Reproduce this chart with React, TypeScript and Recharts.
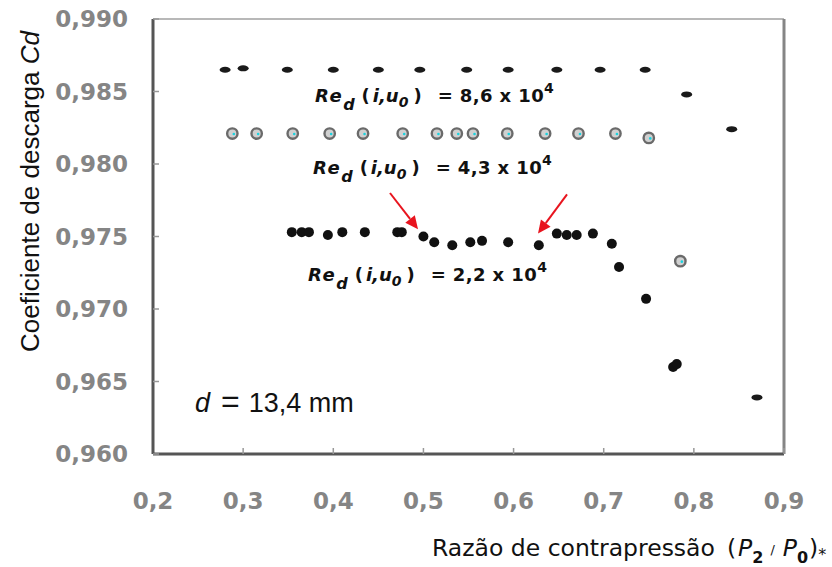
import { ScatterChart, Scatter, XAxis, YAxis, ReferenceLine, ReferenceDot } from "recharts";

const X_TICKS = [0.2, 0.3, 0.4, 0.5, 0.6, 0.7, 0.8, 0.9];
const Y_TICKS = [0.96, 0.965, 0.97, 0.975, 0.98, 0.985, 0.99];

// Re_d = 8,6 x 10^4
const RE86_X = [0.28, 0.3, 0.349, 0.4, 0.45, 0.496, 0.548, 0.594, 0.648, 0.696, 0.746, 0.792, 0.842, 0.87];
const RE86_Y = [0.9865, 0.9866, 0.9865, 0.9865, 0.9865, 0.9865, 0.9865, 0.9865, 0.9865, 0.9865, 0.9865, 0.9848, 0.9824, 0.9639];

// Re_d = 4,3 x 10^4
const RE43_X = [0.288, 0.315, 0.355, 0.396, 0.433, 0.477, 0.515, 0.537, 0.555, 0.593, 0.635, 0.672, 0.713, 0.75, 0.785];
const RE43_Y = [0.9821, 0.9821, 0.9821, 0.9821, 0.9821, 0.9821, 0.9821, 0.9821, 0.9821, 0.9821, 0.9821, 0.9821, 0.9821, 0.9818, 0.9733];

// Re_d = 2,2 x 10^4
const RE22_X = [0.354, 0.365, 0.373, 0.394, 0.41, 0.435, 0.471, 0.476, 0.5, 0.512, 0.532, 0.552, 0.565, 0.594, 0.628, 0.648, 0.659, 0.67, 0.688, 0.709, 0.717, 0.747, 0.777, 0.781];
const RE22_Y = [0.9753, 0.9753, 0.9753, 0.9751, 0.9753, 0.9753, 0.9753, 0.9753, 0.975, 0.9746, 0.9744, 0.9746, 0.9747, 0.9746, 0.9744, 0.9752, 0.9751, 0.9751, 0.9752, 0.9745, 0.9729, 0.9707, 0.966, 0.9662];

const NOTE_VALUES = ["8,6", "4,3", "2,2"];
const NOTE_X = [0.3797, 0.3775, 0.372];
const NOTE_Y = [0.9843, 0.9793, 0.9719];

// red arrows: [start, tip]
const ARROWS = [
  [{ x: 0.4629, y: 0.978 }, { x: 0.494, y: 0.9755 }],
  [{ x: 0.6593, y: 0.9779 }, { x: 0.6271, y: 0.9752 }],
];

const toPoints = (xs: number[], ys: number[]) => xs.map((x, i) => ({ x, y: ys[i] }));

const fmtX = (v: number) => v.toFixed(1).replace(".", ",");
const fmtY = (v: number) => v.toFixed(3).replace(".", ",");

const tickStyle = { fontFamily: "DejaVu Sans", fontWeight: "bold", fontSize: 23, fill: "#858585" };

const DashDot = (p: any) => <ellipse cx={p.cx} cy={p.cy} rx={5.5} ry={3} fill="#1a1a1a" />;

const RingDot = (p: any) => (
  <g>
    <circle cx={p.cx} cy={p.cy} r={5.2} fill="#d0d0d0" stroke="#6a6a6a" strokeWidth={2.4} />
    <circle cx={p.cx + 1.5} cy={p.cy + 0.5} r={1.3} fill="#19d3e0" />
  </g>
);

const BlackDot = (p: any) => <circle cx={p.cx} cy={p.cy} r={5} fill="#111" />;

const ReNote = ({ cx, cy, value }: any) => (
  <text x={cx} y={cy} fontFamily="DejaVu Sans" fontWeight="bold" fontSize={18} fill="#111">
    <tspan fontStyle="italic" letterSpacing={1.5}>Re</tspan>
    <tspan fontStyle="italic" fontSize={16} dy={8}>d</tspan>
    <tspan dy={-8} dx={7}>(</tspan>
    <tspan fontStyle="italic" dx={3}>i,u</tspan>
    <tspan fontStyle="italic" fontSize={14} dy={5}>0</tspan>
    <tspan dy={-5} dx={5}>)</tspan>
    <tspan dx={16} letterSpacing={0.4}>{`= ${value} x 10`}</tspan>
    <tspan fontSize={14} dy={-9}>4</tspan>
  </text>
);

const DNote = ({ cx, cy }: any) => (
  <text x={cx} y={cy} fontFamily="Liberation Sans" fontSize={27} fill="#111">
    <tspan fontStyle="italic">d</tspan>
    <tspan dx={11} fontSize={32}>=</tspan>
    <tspan dx={9}>13,4 mm</tspan>
  </text>
);

const Arrow = ({ x1, y1, x2, y2 }: any) => {
  const a = Math.atan2(y2 - y1, x2 - x1);
  const len = 13;
  const w = 6;
  const bx = x2 - len * Math.cos(a);
  const by = y2 - len * Math.sin(a);
  const px = -Math.sin(a) * w;
  const py = Math.cos(a) * w;
  return (
    <g>
      <line x1={x1} y1={y1} x2={bx} y2={by} stroke="#e8141e" strokeWidth={2} />
      <polygon points={`${x2},${y2} ${bx + px},${by + py} ${bx - px},${by - py}`} fill="#e8141e" />
    </g>
  );
};

const YTitle = (props: any) => {
  const vb = props.viewBox;
  return (
    <text
      transform={`translate(${vb.x + 39}, ${vb.y + vb.height / 2 - 45}) rotate(-90)`}
      textAnchor="middle"
      fontFamily="Liberation Sans"
      fontSize={26}
      fill="#111"
    >
      Coeficiente de descarga{"  "}
      <tspan fontStyle="italic">Cd</tspan>
    </text>
  );
};

const XTitle = (props: any) => {
  const vb = props.viewBox;
  return (
    <text x={vb.x + 279} y={vb.y + 102} fontFamily="DejaVu Sans" fontSize={23.5} fill="#111">
      Razão de contrapressão
      <tspan dx={12}>(</tspan>
      <tspan fontStyle="italic" dx={2}>P</tspan>
      <tspan fontSize={16} fontWeight="bold" dy={7}>2</tspan>
      <tspan dy={-9} fontSize={13} dx={7}>/</tspan>
      <tspan fontStyle="italic" dy={2} dx={8}>P</tspan>
      <tspan fontSize={16} fontWeight="bold" dy={7}>0</tspan>
      <tspan dy={-7} dx={1}>)</tspan>
      <tspan fontSize={16} dy={4}>*</tspan>
    </text>
  );
};

export default function App() {
  return (
    <div style={{ position: "absolute", left: 0, top: 0, width: 832, height: 567, background: "#fff" }}>
      <ScatterChart width={832} height={567} margin={{ top: 19, right: 48, bottom: 0, left: 0 }}>
        <XAxis
          type="number"
          dataKey="x"
          domain={[0.2, 0.9]}
          ticks={X_TICKS}
          tickFormatter={fmtX}
          height={113}
          tick={tickStyle}
          tickSize={-6}
          tickMargin={45}
          tickLine={{ stroke: "#999", strokeWidth: 1.5 }}
          axisLine={{ stroke: "#555", strokeWidth: 3 }}
          allowDataOverflow
          label={{ content: XTitle }}
        />
        <YAxis
          type="number"
          dataKey="y"
          domain={[0.96, 0.99]}
          ticks={Y_TICKS}
          tickFormatter={fmtY}
          width={153}
          tick={tickStyle}
          tickSize={-6}
          tickMargin={31}
          tickLine={{ stroke: "#999", strokeWidth: 1.5 }}
          axisLine={{ stroke: "#555", strokeWidth: 3 }}
          allowDataOverflow
          label={{ content: YTitle }}
        />
        <ReferenceLine y={0.99} stroke="#b8b8b8" strokeWidth={2} />
        <ReferenceLine x={0.9} stroke="#858585" strokeWidth={3} />
        <Scatter data={toPoints(RE86_X, RE86_Y)} shape={DashDot} isAnimationActive={false} />
        <Scatter data={toPoints(RE43_X, RE43_Y)} shape={RingDot} isAnimationActive={false} />
        <Scatter data={toPoints(RE22_X, RE22_Y)} shape={BlackDot} isAnimationActive={false} />
        {NOTE_VALUES.map((v, i) => (
          <ReferenceDot key={v} x={NOTE_X[i]} y={NOTE_Y[i]} r={0} shape={(p: any) => <ReNote {...p} value={v} />} />
        ))}
        <ReferenceDot x={0.2466} y={0.9629} r={0} shape={(p: any) => <DNote {...p} />} />
        {ARROWS.map((seg, i) => (
          <ReferenceLine key={i} segment={seg} shape={(p: any) => <Arrow {...p} />} />
        ))}
      </ScatterChart>
    </div>
  );
}
